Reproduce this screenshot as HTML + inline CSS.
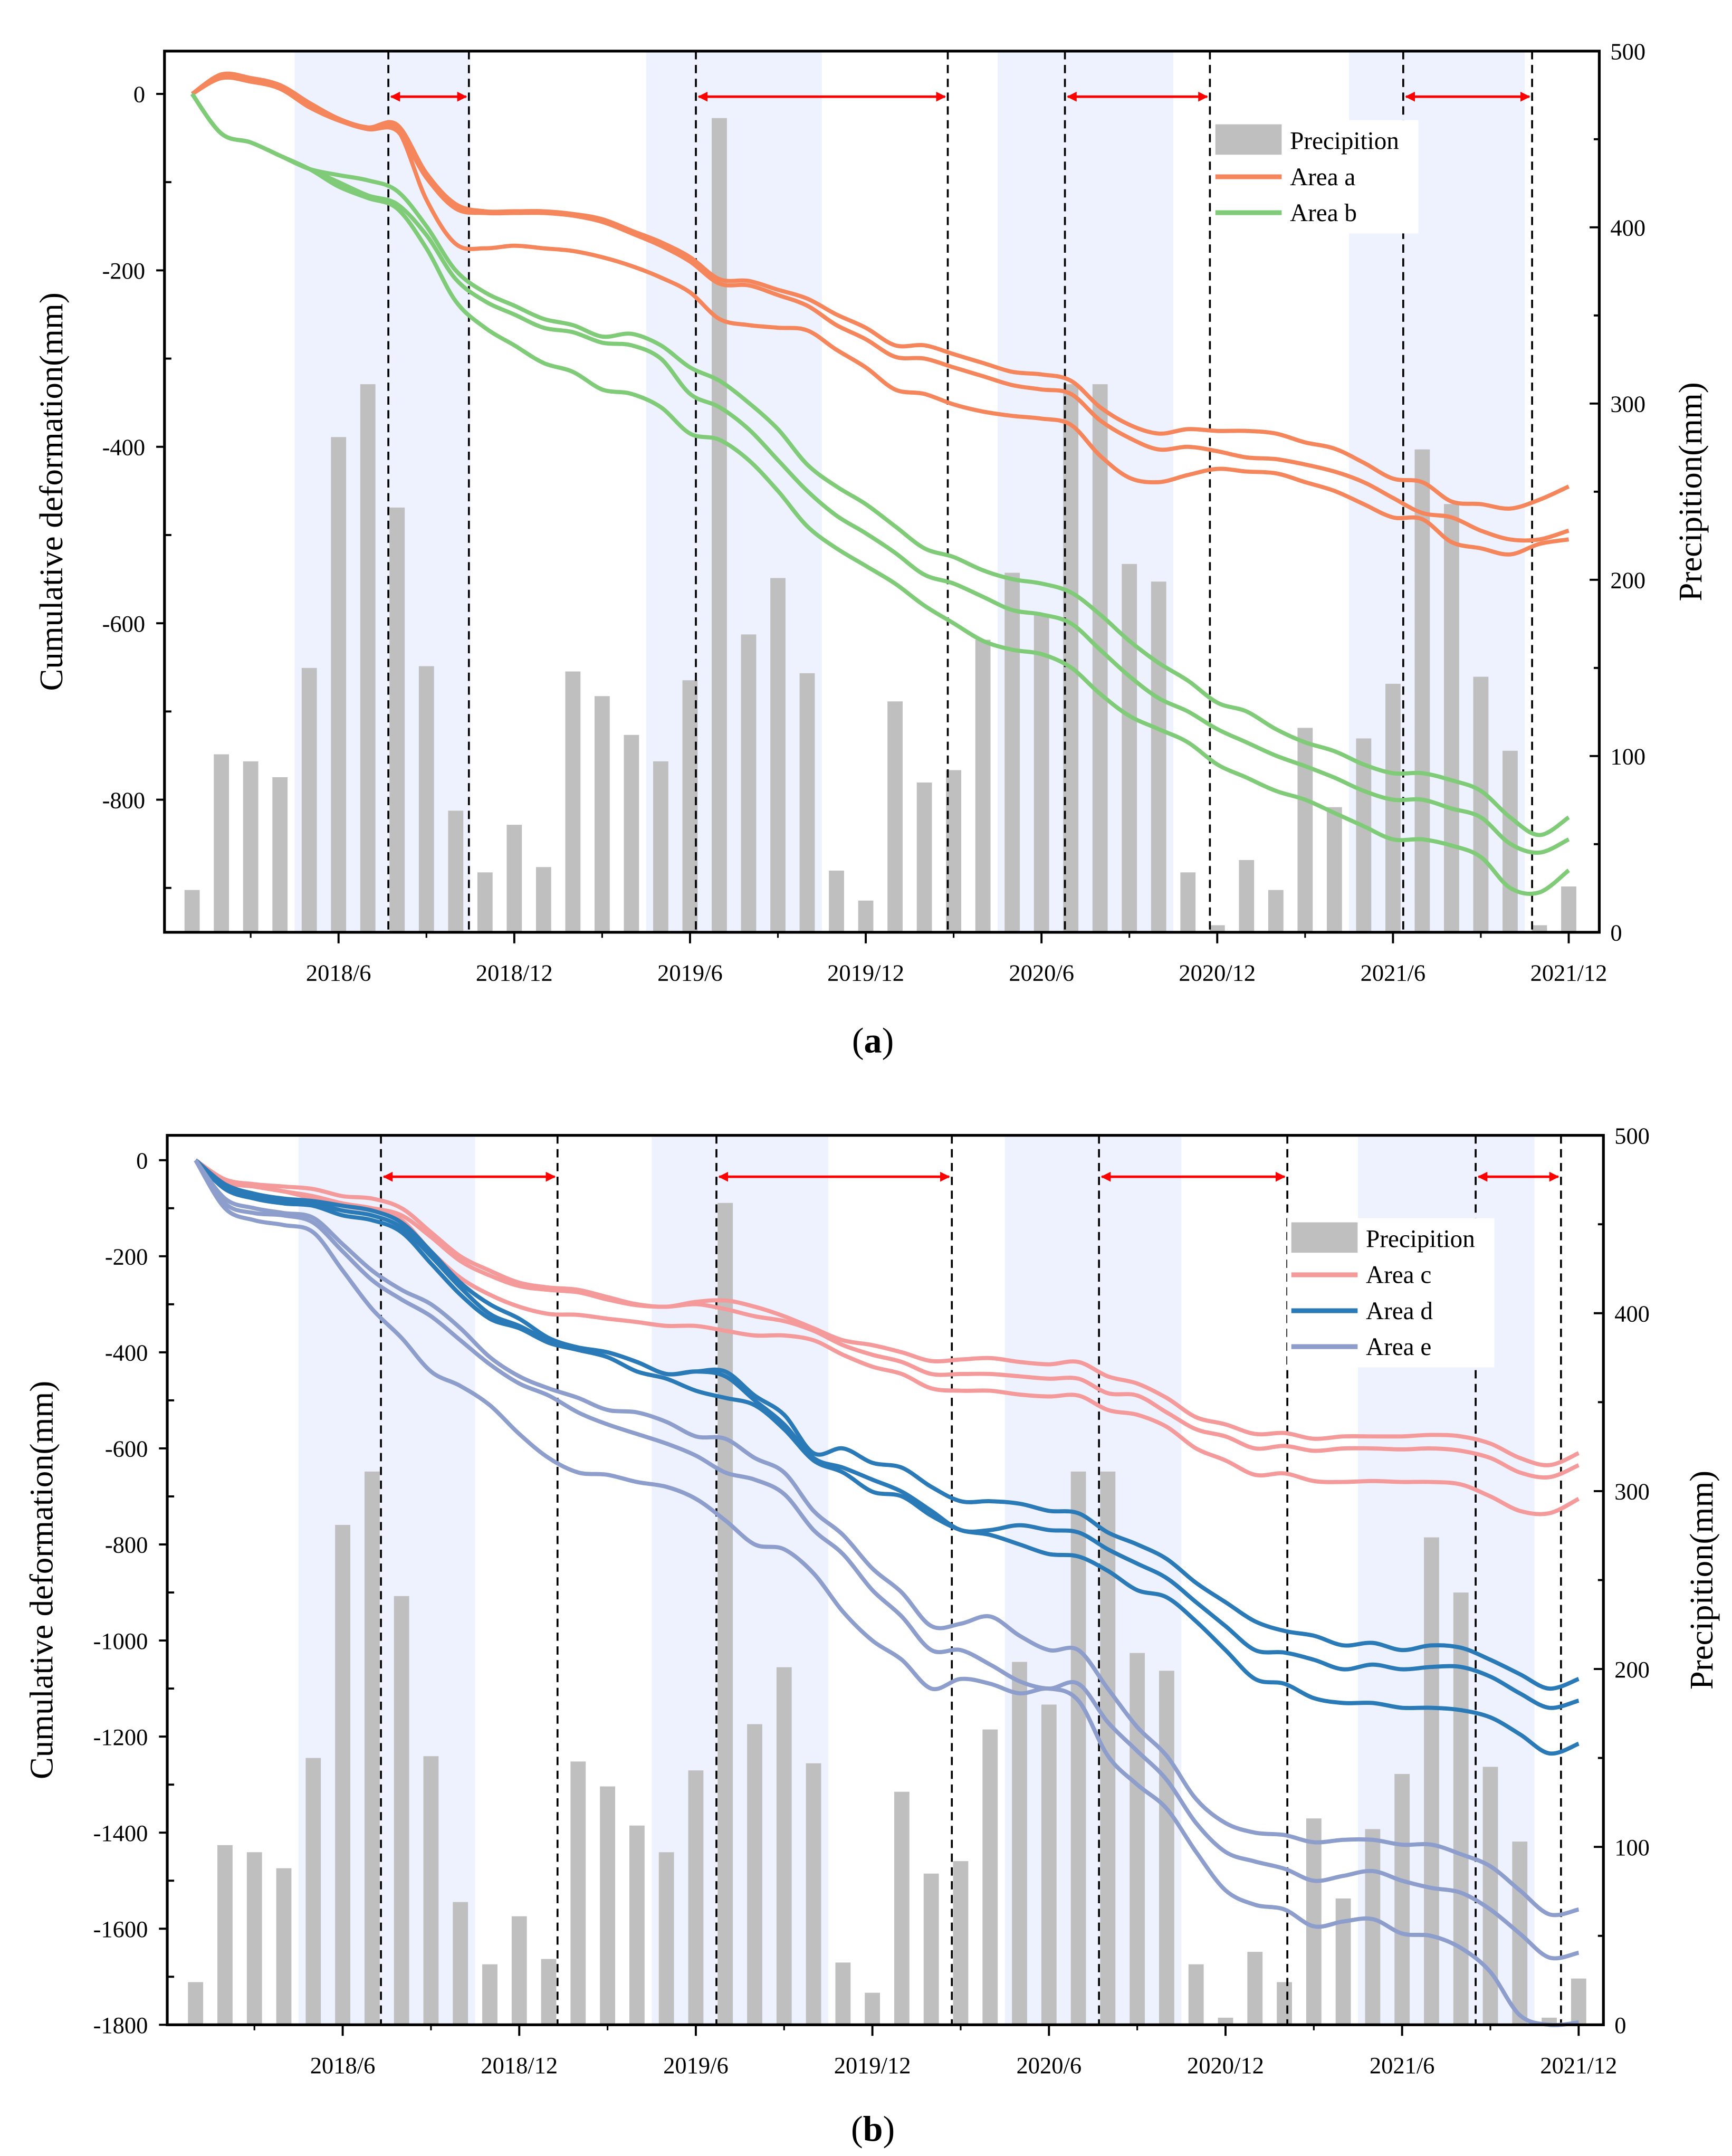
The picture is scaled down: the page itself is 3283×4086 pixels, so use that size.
<!DOCTYPE html>
<html><head><meta charset="utf-8"><style>
html,body{margin:0;padding:0;background:#fff;}
svg{display:block;font-family:"Liberation Serif",serif;}
</style></head><body>
<svg id="chart" width="3283" height="4086" viewBox="0 0 1254 1561" xmlns="http://www.w3.org/2000/svg">
<defs>
<marker id="ah" viewBox="0 0 10 10" refX="9" refY="5" markerWidth="4" markerHeight="4" orient="auto-start-reverse"><path d="M0,0L10,5L0,10z" fill="#f00"/></marker>
</defs>
<rect width="1254" height="1561" fill="#fff"/>
</svg>
<script>
const months = ["2018/1","2018/2","2018/3","2018/4","2018/5","2018/6","2018/7","2018/8","2018/9","2018/10","2018/11","2018/12","2019/1","2019/2","2019/3","2019/4","2019/5","2019/6","2019/7","2019/8","2019/9","2019/10","2019/11","2019/12","2020/1","2020/2","2020/3","2020/4","2020/5","2020/6","2020/7","2020/8","2020/9","2020/10","2020/11","2020/12","2021/1","2021/2","2021/3","2021/4","2021/5","2021/6","2021/7","2021/8","2021/9","2021/10","2021/11","2021/12"];
const precip = [24,101,97,88,150,281,311,241,151,69,34,61,37,148,134,112,97,143,462,169,201,147,35,18,131,85,92,166,204,180,311,311,209,199,34,4,41,24,116,71,110,141,274,243,145,103,4,26];
const xTickLabels = ["2018/6","2018/12","2019/6","2019/12","2020/6","2020/12","2021/6","2021/12"];
const xTickIdx = [5,11,17,23,29,35,41,47];
const areaA1 = [0,22,18,10,-10,-28,-38,-35,-90,-125,-133,-133,-133,-136,-142,-155,-168,-185,-210,-212,-222,-232,-250,-265,-285,-285,-295,-305,-315,-318,-325,-355,-375,-385,-380,-382,-382,-385,-395,-402,-418,-436,-440,-462,-465,-470,-460,-445];
const areaA2 = [0,18,14,6,-15,-30,-40,-42,-95,-130,-135,-135,-135,-138,-145,-158,-172,-190,-215,-217,-228,-240,-262,-278,-298,-300,-310,-320,-330,-335,-340,-370,-390,-403,-400,-405,-412,-414,-420,-428,-440,-458,-475,-480,-495,-505,-505,-495];
const areaA3 = [0,18,14,6,-15,-30,-38,-40,-120,-170,-175,-172,-175,-178,-185,-195,-208,-225,-255,-262,-265,-268,-290,-310,-335,-340,-352,-360,-365,-368,-375,-410,-435,-440,-432,-425,-428,-430,-440,-450,-465,-480,-482,-508,-515,-522,-510,-505];
const areaB1 = [0,-45,-55,-70,-85,-92,-98,-110,-150,-200,-225,-240,-255,-262,-275,-272,-285,-310,-325,-350,-380,-420,-445,-465,-490,-515,-525,-540,-550,-555,-565,-590,-620,-645,-665,-690,-700,-720,-735,-745,-760,-770,-770,-778,-790,-820,-840,-820];
const areaB2 = [0,-45,-55,-70,-85,-100,-115,-125,-160,-210,-235,-250,-265,-270,-282,-285,-300,-340,-355,-380,-415,-450,-478,-498,-520,-545,-555,-570,-585,-590,-600,-630,-660,-685,-700,-720,-735,-750,-762,-775,-790,-800,-800,-810,-820,-850,-860,-845];
const areaB3 = [0,-45,-55,-70,-85,-105,-118,-130,-175,-235,-265,-285,-305,-315,-335,-340,-355,-385,-392,-415,-450,-490,-515,-535,-555,-580,-600,-620,-630,-635,-650,-680,-705,-720,-735,-760,-775,-790,-800,-815,-830,-845,-845,-852,-865,-900,-905,-880];
const areaC1 = [0,-40,-50,-55,-60,-75,-80,-100,-150,-200,-230,-255,-265,-270,-285,-300,-305,-295,-292,-305,-325,-350,-375,-385,-400,-418,-415,-412,-420,-425,-420,-450,-465,-495,-535,-550,-570,-568,-580,-575,-575,-575,-572,-575,-590,-620,-635,-610];
const areaC2 = [0,-45,-55,-65,-75,-90,-100,-115,-160,-210,-240,-262,-270,-275,-290,-302,-305,-300,-310,-325,-335,-355,-385,-405,-420,-445,-445,-445,-450,-455,-455,-485,-490,-525,-560,-575,-600,-595,-605,-600,-600,-602,-600,-605,-620,-650,-660,-635];
const areaC3 = [0,-45,-55,-65,-80,-95,-105,-125,-190,-245,-280,-305,-320,-322,-330,-337,-345,-345,-355,-365,-365,-375,-405,-430,-445,-475,-480,-480,-488,-492,-490,-520,-530,-555,-600,-625,-655,-652,-668,-670,-668,-670,-670,-675,-700,-730,-735,-705];
const areaD1 = [0,-50,-70,-80,-85,-95,-105,-130,-190,-255,-300,-330,-370,-390,-400,-420,-445,-440,-440,-490,-530,-610,-600,-630,-640,-680,-710,-710,-715,-730,-735,-775,-800,-830,-880,-920,-960,-980,-990,-1010,-1005,-1020,-1010,-1015,-1040,-1070,-1100,-1080];
const areaD2 = [0,-55,-75,-85,-90,-105,-115,-140,-200,-265,-320,-345,-375,-390,-400,-420,-445,-440,-450,-500,-550,-620,-640,-665,-690,-730,-770,-770,-760,-770,-775,-810,-840,-870,-920,-970,-1020,-1025,-1040,-1060,-1050,-1060,-1055,-1055,-1075,-1110,-1140,-1125];
const areaD3 = [0,-60,-80,-90,-95,-115,-125,-150,-215,-280,-330,-350,-380,-395,-410,-440,-455,-480,-495,-510,-560,-625,-650,-690,-700,-740,-770,-780,-800,-820,-825,-855,-895,-910,-960,-1020,-1080,-1090,-1120,-1130,-1130,-1140,-1140,-1145,-1160,-1195,-1235,-1215];
const areaE1 = [0,-80,-100,-110,-120,-175,-230,-270,-300,-350,-410,-450,-475,-495,-520,-525,-545,-575,-580,-620,-650,-730,-780,-850,-900,-970,-965,-950,-990,-1020,-1020,-1100,-1180,-1240,-1330,-1380,-1400,-1405,-1420,-1415,-1415,-1425,-1425,-1445,-1470,-1520,-1570,-1560];
const areaE2 = [0,-90,-110,-115,-130,-190,-250,-290,-325,-375,-425,-465,-490,-525,-550,-570,-590,-615,-650,-665,-695,-770,-820,-895,-950,-1020,-1020,-1050,-1085,-1100,-1090,-1170,-1230,-1290,-1380,-1440,-1460,-1475,-1500,-1490,-1480,-1500,-1515,-1525,-1560,-1610,-1660,-1650];
const areaE3 = [0,-100,-125,-135,-150,-230,-310,-370,-440,-470,-510,-570,-620,-650,-655,-670,-680,-705,-750,-800,-810,-860,-940,-1000,-1040,-1100,-1080,-1090,-1110,-1100,-1125,-1240,-1300,-1350,-1440,-1520,-1550,-1560,-1595,-1585,-1580,-1610,-1615,-1640,-1690,-1780,-1800,-1795];
const dashedA = [6.7,9.45,17.2,25.8,29.8,34.75,41.35,45.75];
const dashedB = [6.3,12.3,17.7,25.7,30.7,37.1,43.5,46.4];

const svg = document.getElementById('chart');
const NS = 'http://www.w3.org/2000/svg';
function mk(tag, attrs, parent, text){
  const e = document.createElementNS(NS, tag);
  for (const k in attrs) e.setAttribute(k, attrs[k]);
  if (text !== undefined) e.textContent = text;
  (parent||svg).appendChild(e);
  return e;
}
function smooth(pts){
  let d = 'M'+pts[0][0].toFixed(1)+','+pts[0][1].toFixed(1);
  for (let i=0;i<pts.length-1;i++){
    const p0=pts[Math.max(0,i-1)],p1=pts[i],p2=pts[i+1],p3=pts[Math.min(pts.length-1,i+2)];
    const c1=[p1[0]+(p2[0]-p0[0])/6,p1[1]+(p2[1]-p0[1])/6];
    const c2=[p2[0]-(p3[0]-p1[0])/6,p2[1]-(p3[1]-p1[1])/6];
    d+=' C'+c1[0].toFixed(1)+','+c1[1].toFixed(1)+' '+c2[0].toFixed(1)+','+c2[1].toFixed(1)+' '+p2[0].toFixed(1)+','+p2[1].toFixed(1);
  }
  return d;
}

function panel(cfg){
  const g = mk('g', {});
  
  
  const xs = i => cfg.x0 + cfg.dx*i;
  const yL = v => cfg.yZero + (cfg.yMinPix - cfg.yZero) * (v / cfg.yMin);
  const yR = v => cfg.bottom - (cfg.bottom - cfg.top) * v / 500;
  for (let y=0;y<4;y++){
    const b = mk('rect', {x: xs(3.5+12*y), y: cfg.top+1, width: xs(9.5)-xs(3.5), height: cfg.bottom-cfg.top-1, fill:'#EEF2FE'}, g);
    
    
  }
  precip.forEach((v,i)=>{
    const r = mk('rect', {x: xs(i)-5.5, y: yR(v), width: 11, height: cfg.bottom-yR(v), fill:'#BFBFBF'}, g);
    
    
  });
  cfg.dashed.forEach(m=>{
    const l = mk('line', {x1: xs(m), x2: xs(m), y1: cfg.top, y2: cfg.bottom, stroke:'#000', 'stroke-width':1.4, 'stroke-dasharray':'6,4'}, g);
    
    
  });
  for (let k=0;k<4;k++){
    const a = mk('line', {x1: xs(cfg.dashed[2*k])+2, x2: xs(cfg.dashed[2*k+1])-2, y1: cfg.arrowY, y2: cfg.arrowY, stroke:'#f00', 'stroke-width':1.8, 'marker-start':'url(#ah)', 'marker-end':'url(#ah)'}, g);
    
    
  }
  cfg.series.forEach(s=>{
    s.data.forEach(arr=>{
      const p = mk('path', {d: smooth(arr.map((v,i)=>[xs(i), yL(v)])), fill:'none', stroke:s.color, 'stroke-width':3, 'stroke-linejoin':'round'}, g);
      
      
    });
  });
  const fr = mk('rect', {x: cfg.left, y: cfg.top, width: cfg.right-cfg.left, height: cfg.bottom-cfg.top, fill:'none', stroke:'#000', 'stroke-width':2}, g);
  
  
  cfg.leftTicks.forEach(v=>{
    const y = yL(v);
    mk('line', {x1: cfg.left, x2: cfg.left-6, y1: y, y2: y, stroke:'#000', 'stroke-width':1.5}, g);
    const t = mk('text', {x: cfg.left-14, y: y+6, 'text-anchor':'end', 'font-size':17}, g, String(v));
    
    
    const ym = yL(v - cfg.leftStep/2);
    if (ym < cfg.bottom-2) mk('line', {x1: cfg.left, x2: cfg.left+5, y1: ym, y2: ym, stroke:'#000', 'stroke-width':1.5}, g);
  });
  for (let v=0; v<=500; v+=50){
    const y = yR(v);
    mk('line', {x1: cfg.right, x2: cfg.right-(v%100===0?7:4), y1: y, y2: y, stroke:'#000', 'stroke-width':1.5}, g);
    if (v%100===0){
      const t = mk('text', {x: cfg.right+8, y: y+6, 'font-size':17}, g, String(v));
      
      
    }
  }
  xTickIdx.forEach((m,k)=>{
    const x = xs(m);
    mk('line', {x1: x, x2: x, y1: cfg.bottom, y2: cfg.bottom+8, stroke:'#000', 'stroke-width':1.5}, g);
    const t = mk('text', {x: x, y: cfg.bottom+35, 'text-anchor':'middle', 'font-size':17}, g, xTickLabels[k]);
    
    
  });
  for (let m=2;m<48;m+=6){ const x=xs(m); mk('line',{x1:x,x2:x,y1:cfg.bottom,y2:cfg.bottom+4,stroke:'#000','stroke-width':1.2},g); }
  const yt = mk('text', {x: cfg.ltx, y: (cfg.top+cfg.bottom)/2, 'text-anchor':'middle', 'font-size':24, transform:'rotate(-90 '+cfg.ltx+' '+(cfg.top+cfg.bottom)/2+')'}, g, 'Cumulative deformation(mm)');
  
  
  const rt = mk('text', {x: cfg.rtx, y: (cfg.top+cfg.bottom)/2, 'text-anchor':'middle', 'font-size':24, transform:'rotate(-90 '+cfg.rtx+' '+(cfg.top+cfg.bottom)/2+')'}, g, 'Precipition(mm)');
  
  
  const cap = mk('text', {x: 632, y: cfg.capY, 'text-anchor':'middle', 'font-size':26}, g);
  
  
  cap.innerHTML = '(<tspan font-weight="bold">'+cfg.letter+'</tspan>)';
  const lg = mk('g', {}, g);
  
  
  const n = cfg.series.length+1;
  mk('rect', {x: cfg.lgx-3, y: cfg.lgy-3, width: 150, height: n*26+4, fill:'#fff'}, lg);
  mk('rect', {x: cfg.lgx, y: cfg.lgy, width: 48, height: 22, fill:'#BFBFBF'}, lg);
  const e0 = mk('text', {x: cfg.lgx+54, y: cfg.lgy+18, 'font-size':18}, lg, 'Precipition');
  
  
  cfg.series.forEach((s,k)=>{
    const yy = cfg.lgy + 38 + 26*k;
    mk('line', {x1: cfg.lgx, x2: cfg.lgx+48, y1: yy, y2: yy, stroke: s.color, 'stroke-width':3.5}, lg);
    const e = mk('text', {x: cfg.lgx+54, y: yy+6, 'font-size':18}, lg, s.label);
    
    
  });
}

panel({name:'panel-a', letter:'a', left:119, right:1158, top:37, bottom:675, x0:139, dx:21.21,
  yZero:68, yMin:-800, yMinPix:579, leftTicks:[0,-200,-400,-600,-800], leftStep:200,
  dashed:dashedA, arrowY:70, ltx:45, rtx:1232, capY:762, lgx:880, lgy:90,
  series:[{key:'area-a',label:'Area a',color:'#F5865B',data:[areaA1,areaA2,areaA3]},
          {key:'area-b',label:'Area b',color:'#7FCB78',data:[areaB1,areaB2,areaB3]}]});
panel({name:'panel-b', letter:'b', left:121, right:1161, top:822, bottom:1466, x0:141.5, dx:21.31,
  yZero:840, yMin:-1800, yMinPix:1466, leftTicks:[0,-200,-400,-600,-800,-1000,-1200,-1400,-1600,-1800], leftStep:200,
  dashed:dashedB, arrowY:852, ltx:38, rtx:1240, capY:1550, lgx:935, lgy:885,
  series:[{key:'area-c',label:'Area c',color:'#F59A9A',data:[areaC1,areaC2,areaC3]},
          {key:'area-d',label:'Area d',color:'#2A7AB7',data:[areaD1,areaD2,areaD3]},
          {key:'area-e',label:'Area e',color:'#8D9ECC',data:[areaE1,areaE2,areaE3]}]});
</script>
</body></html>
